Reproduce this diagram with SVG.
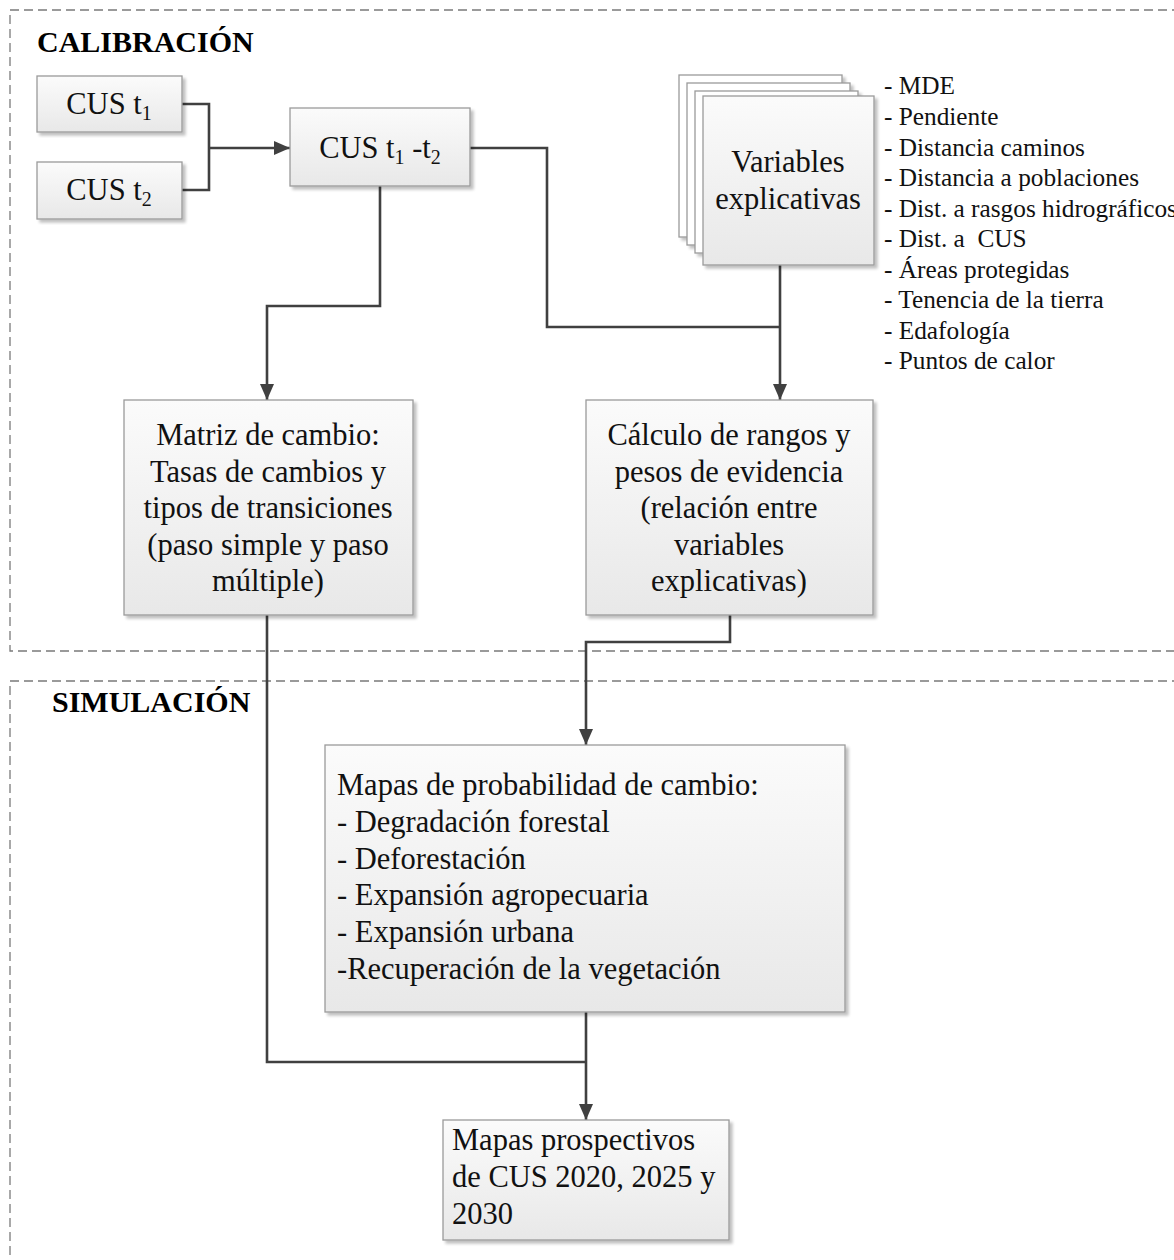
<svg xmlns="http://www.w3.org/2000/svg" width="1174" height="1260" viewBox="0 0 1174 1260">
  <style>
    .frame { fill: none; stroke: #7a7a7a; stroke-width: 1.3; stroke-dasharray: 9 5; }
    .box { fill: url(#boxFill); stroke: #9a9a9a; stroke-width: 1.3; filter: url(#shadow); }
    .sheet { fill: #ffffff; stroke: #9a9a9a; stroke-width: 1.3; filter: url(#shadow); }
    .wire { fill: none; stroke: #404040; stroke-width: 2.6; }
    .t { font-family: "Liberation Serif", "Times New Roman", serif; fill: #111; }
    .big { font-size: 30.5px; }
    .mid { font-size: 25.3px; }
    .head { font-family: "Liberation Serif", "Times New Roman", serif; font-weight: bold; fill: #000; }
  </style>
  <defs>
    <linearGradient id="boxFill" x1="0" y1="0" x2="0" y2="1">
      <stop offset="0" stop-color="#fbfbfb"/>
      <stop offset="1" stop-color="#e8e8e8"/>
    </linearGradient>
    <filter id="shadow" x="-5%" y="-5%" width="115%" height="115%">
      <feGaussianBlur in="SourceAlpha" stdDeviation="1.5"/>
      <feOffset dx="2.5" dy="2.5" result="b"/>
      <feComponentTransfer><feFuncA type="linear" slope="0.25"/></feComponentTransfer>
      <feMerge><feMergeNode/><feMergeNode in="SourceGraphic"/></feMerge>
    </filter>
    <marker id="arrow" viewBox="0 0 16 14" refX="16" refY="7" markerWidth="16" markerHeight="14" markerUnits="userSpaceOnUse" orient="auto">
      <path d="M0,0 L16,7 L0,14 Z" fill="#404040"/>
    </marker>
  </defs>

  <rect width="1174" height="1260" fill="#ffffff"/>

  <!-- section frames -->
  <g id="calibracion">
    <rect class="frame" x="10" y="10" width="1200" height="641"/>
    <text class="head" x="37" y="52" font-size="30">CALIBRACIÓN</text>
  </g>
  <g id="simulacion">
    <rect class="frame" x="10" y="681" width="1200" height="620"/>
    <text class="head" x="52" y="712" font-size="30">SIMULACIÓN</text>
  </g>

  <!-- connectors -->
  <g id="connectors">
    <path class="wire" d="M182,104 H209 V190 H182"/>
    <path class="wire" d="M209,148 H290" marker-end="url(#arrow)"/>
    <path class="wire" d="M380,186 V306 H267 V400" marker-end="url(#arrow)"/>
    <path class="wire" d="M470,148 H547 V327 H780"/>
    <path class="wire" d="M780,265 V400" marker-end="url(#arrow)"/>
    <path class="wire" d="M730,615 V642 H586 V745" marker-end="url(#arrow)"/>
    <path class="wire" d="M267,615 V1062 H586"/>
    <path class="wire" d="M586,1012 V1120" marker-end="url(#arrow)"/>
  </g>

  <!-- nodes -->
  <g id="cus-t1">
    <rect class="box" x="37" y="76" width="145" height="56"/>
    <text class="t big" x="109" y="114" text-anchor="middle">CUS t<tspan font-size="20" dy="6">1</tspan></text>
  </g>
  <g id="cus-t2">
    <rect class="box" x="37" y="162" width="145" height="57"/>
    <text class="t big" x="109" y="200" text-anchor="middle">CUS t<tspan font-size="20" dy="6">2</tspan></text>
  </g>
  <g id="cus-t1-t2">
    <rect class="box" x="290" y="108" width="180" height="78"/>
    <text class="t big" x="380" y="158" text-anchor="middle">CUS t<tspan font-size="20" dy="6">1</tspan><tspan dy="-6"> -t</tspan><tspan font-size="20" dy="6">2</tspan></text>
  </g>
  <g id="variables">
    <rect class="sheet" x="679" y="75" width="163" height="162"/>
    <rect class="sheet" x="687" y="83" width="163" height="162"/>
    <rect class="sheet" x="695" y="91" width="163" height="162"/>
    <rect class="box" x="703" y="96" width="171" height="169"/>
    <text class="t big" x="788" y="172" text-anchor="middle">Variables</text>
    <text class="t big" x="788" y="209" text-anchor="middle">explicativas</text>
  </g>
  <g id="variables-list" class="t mid">
    <text x="884" y="94">- MDE</text>
    <text x="884" y="125">- Pendiente</text>
    <text x="884" y="156">- Distancia caminos</text>
    <text x="884" y="186">- Distancia a poblaciones</text>
    <text x="884" y="217">- Dist. a rasgos hidrográficos</text>
    <text x="884" y="247" xml:space="preserve">- Dist. a  CUS</text>
    <text x="884" y="278">- Áreas protegidas</text>
    <text x="884" y="308">- Tenencia de la tierra</text>
    <text x="884" y="339">- Edafología</text>
    <text x="884" y="369">- Puntos de calor</text>
  </g>
  <g id="matriz">
    <rect class="box" x="124" y="400" width="289" height="215"/>
    <g class="t big" text-anchor="middle">
      <text x="268" y="445">Matriz de cambio:</text>
      <text x="268" y="481.5">Tasas de cambios y</text>
      <text x="268" y="518">tipos de transiciones</text>
      <text x="268" y="554.5">(paso simple y paso</text>
      <text x="268" y="591">múltiple)</text>
    </g>
  </g>
  <g id="calculo">
    <rect class="box" x="586" y="400" width="287" height="215"/>
    <g class="t big" text-anchor="middle">
      <text x="729" y="445">Cálculo de rangos y</text>
      <text x="729" y="481.5">pesos de evidencia</text>
      <text x="729" y="518">(relación entre</text>
      <text x="729" y="554.5">variables</text>
      <text x="729" y="591">explicativas)</text>
    </g>
  </g>
  <g id="mapas-probabilidad">
    <rect class="box" x="325" y="745" width="520" height="267"/>
    <g class="t big">
      <text x="337" y="795">Mapas de probabilidad de cambio:</text>
      <text x="337" y="832">- Degradación forestal</text>
      <text x="337" y="869">- Deforestación</text>
      <text x="337" y="905">- Expansión agropecuaria</text>
      <text x="337" y="942">- Expansión urbana</text>
      <text x="337" y="979">-Recuperación de la vegetación</text>
    </g>
  </g>
  <g id="mapas-prospectivos">
    <rect class="box" x="443" y="1120" width="286" height="120"/>
    <g class="t big">
      <text x="452" y="1150">Mapas prospectivos</text>
      <text x="452" y="1187">de CUS 2020, 2025 y</text>
      <text x="452" y="1224">2030</text>
    </g>
  </g>
</svg>
